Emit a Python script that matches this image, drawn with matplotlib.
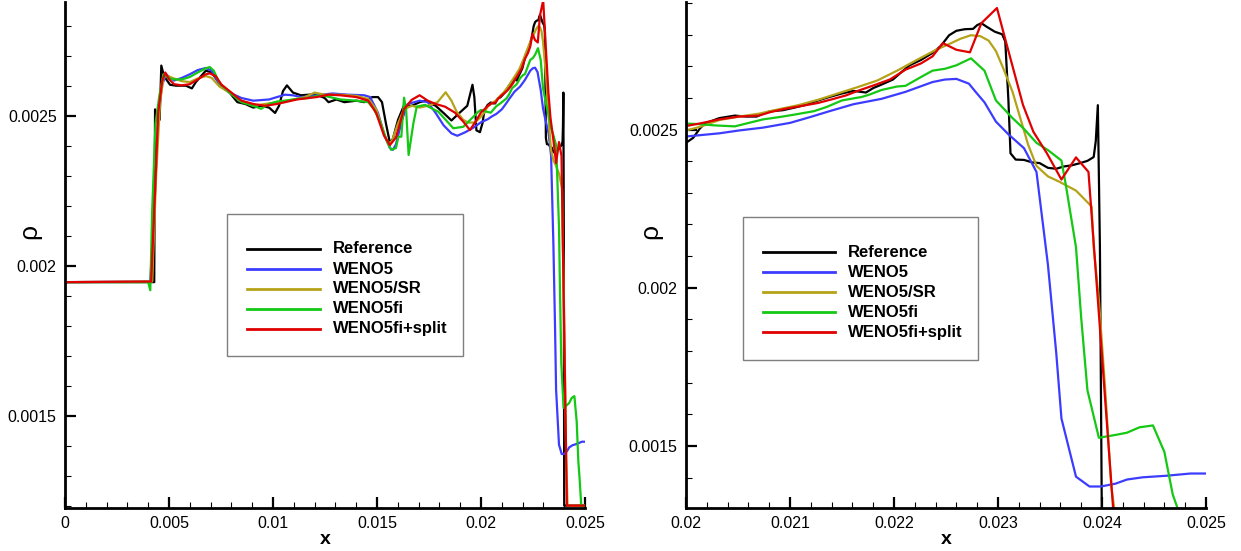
import numpy as np
import matplotlib
matplotlib.use("Agg")
import matplotlib.pyplot as plt
from matplotlib.ticker import MultipleLocator, FuncFormatter
from matplotlib.patches import Rectangle

plt.rcParams['font.family'] = ['Liberation Sans', 'DejaVu Sans']

# density profiles (x, rho)
ref_pts = [(0.0, 0.001945), (0.00429, 0.001945), (0.00433, 0.002521), (0.0044, 0.002486), (0.00455, 0.002486),
           (0.00463, 0.002667), (0.00476, 0.002632), (0.00505, 0.002603), (0.00534, 0.0026), (0.00581, 0.0026),
           (0.0061, 0.002591), (0.00629, 0.002612), (0.00677, 0.00265), (0.00705, 0.002644), (0.00753, 0.002597),
           (0.00791, 0.002577), (0.00829, 0.002545), (0.00867, 0.002539), (0.00905, 0.002527), (0.00943, 0.002533),
           (0.00981, 0.002527), (0.0101, 0.002509), (0.01029, 0.002533), (0.01048, 0.002582), (0.01067, 0.002601),
           (0.01096, 0.002577), (0.01134, 0.002568), (0.01172, 0.00257), (0.0121, 0.00257), (0.01248, 0.002559),
           (0.01267, 0.002545), (0.01305, 0.002554), (0.01343, 0.002545), (0.01401, 0.00255), (0.01439, 0.002545),
           (0.01477, 0.002562), (0.01505, 0.002562), (0.01524, 0.002545), (0.01543, 0.002474), (0.01562, 0.00241),
           (0.01576, 0.002422), (0.01601, 0.002486), (0.01629, 0.002533), (0.01667, 0.002533), (0.01705, 0.002545),
           (0.01734, 0.00255), (0.01763, 0.002539), (0.01782, 0.002533), (0.0182, 0.002509), (0.01858, 0.002484),
           (0.01896, 0.002509), (0.01934, 0.002533), (0.01959, 0.002603), (0.01968, 0.002562), (0.01978, 0.002451),
           (0.01995, 0.002445), (0.02, 0.002458), (0.02007, 0.002474), (0.02013, 0.002502), (0.02018, 0.002519),
           (0.02032, 0.002536), (0.02047, 0.002544), (0.02058, 0.002541), (0.02068, 0.002541), (0.02074, 0.00255),
           (0.02081, 0.002558), (0.02093, 0.002561), (0.02104, 0.002569), (0.02115, 0.002578), (0.02127, 0.002592),
           (0.02138, 0.002603), (0.0215, 0.002614), (0.02161, 0.002622), (0.02173, 0.002617), (0.0218, 0.002631),
           (0.02188, 0.002642), (0.02199, 0.002658), (0.02207, 0.002681), (0.02215, 0.002703), (0.02226, 0.00272),
           (0.02237, 0.002742), (0.02245, 0.002764), (0.02253, 0.002798), (0.0226, 0.002812), (0.02268, 0.002817),
           (0.02276, 0.002818), (0.0228, 0.00283), (0.02284, 0.002836), (0.02289, 0.002825), (0.02297, 0.002809),
           (0.02304, 0.002801), (0.02307, 0.002778), (0.0231, 0.002593), (0.02312, 0.002425), (0.02317, 0.002405),
           (0.02325, 0.002404), (0.02333, 0.002396), (0.0234, 0.002394), (0.02348, 0.002379), (0.02356, 0.002376),
           (0.02363, 0.002383), (0.02371, 0.002387), (0.02378, 0.002393), (0.02386, 0.002401), (0.02392, 0.002413),
           (0.02394, 0.002463), (0.02396, 0.002577), (0.02398, 0.002128), (0.024, 0.0012), (0.025, 0.0012)]

weno5_pts = [(0.0, 0.001945), (0.0041, 0.001947), (0.00429, 0.002181), (0.00448, 0.002498), (0.00467, 0.002603),
             (0.00486, 0.002638), (0.00524, 0.002617), (0.00562, 0.002626), (0.006, 0.002638), (0.00638, 0.002652),
             (0.00677, 0.002659), (0.00705, 0.00265), (0.00743, 0.002603), (0.00791, 0.002577), (0.00848, 0.002559),
             (0.00905, 0.00255), (0.00981, 0.002554), (0.01019, 0.002562), (0.01058, 0.00257), (0.01096, 0.002568),
             (0.01134, 0.002562), (0.0121, 0.002568), (0.01286, 0.002574), (0.01362, 0.00257), (0.01439, 0.002568),
             (0.01467, 0.002562), (0.01505, 0.002509), (0.01534, 0.002439), (0.01562, 0.002392), (0.01576, 0.002386),
             (0.01591, 0.002404), (0.0162, 0.002486), (0.01648, 0.002539), (0.01705, 0.00255), (0.01744, 0.002545),
             (0.01782, 0.002509), (0.0182, 0.002468), (0.01858, 0.002441), (0.01886, 0.002433), (0.01925, 0.002445),
             (0.01963, 0.00246), (0.02, 0.002478), (0.02032, 0.002488), (0.02051, 0.002497), (0.02074, 0.002506),
             (0.021, 0.002521), (0.02119, 0.002539), (0.02138, 0.002558), (0.02161, 0.00258), (0.02188, 0.002597),
             (0.02211, 0.002619), (0.02237, 0.00265), (0.02249, 0.002658), (0.0226, 0.00266), (0.02272, 0.002645),
             (0.02279, 0.002617), (0.02287, 0.002586), (0.02298, 0.002525), (0.0231, 0.002485), (0.02325, 0.002441),
             (0.02337, 0.002366), (0.02348, 0.002073), (0.02356, 0.001794), (0.02361, 0.001587), (0.02375, 0.001403),
             (0.02388, 0.001372), (0.02399, 0.001372), (0.02413, 0.001381), (0.02424, 0.001394), (0.02439, 0.001401),
             (0.02462, 0.001406), (0.02485, 0.001413), (0.025, 0.001413)]

weno5sr_pts = [(0.0, 0.001945), (0.00419, 0.001947), (0.00438, 0.002299), (0.00457, 0.002545), (0.00476, 0.002638),
               (0.00495, 0.002632), (0.00524, 0.002624), (0.00562, 0.002615), (0.006, 0.002612), (0.00638, 0.002624),
               (0.00677, 0.002632), (0.00705, 0.002626), (0.00743, 0.002597), (0.00791, 0.002577), (0.00848, 0.00255),
               (0.00905, 0.002533), (0.00962, 0.002539), (0.01019, 0.002545), (0.01096, 0.002553), (0.01153, 0.002562),
               (0.012, 0.002577), (0.01248, 0.00257), (0.01324, 0.00257), (0.01401, 0.002566), (0.01458, 0.002556),
               (0.01496, 0.002521), (0.01524, 0.002463), (0.01553, 0.002406), (0.01572, 0.002416), (0.01601, 0.002474),
               (0.01629, 0.002521), (0.01667, 0.002533), (0.01705, 0.002527), (0.01744, 0.002533), (0.01791, 0.002545),
               (0.0183, 0.002578), (0.01858, 0.00255), (0.01883, 0.002513), (0.01915, 0.002486), (0.01939, 0.002477),
               (0.01971, 0.002477), (0.02, 0.002497), (0.02013, 0.002508), (0.02032, 0.00253), (0.02051, 0.002541),
               (0.0207, 0.00255), (0.02089, 0.002564), (0.02108, 0.002577), (0.02127, 0.002594), (0.02146, 0.002614),
               (0.02165, 0.002634), (0.02184, 0.002655), (0.02203, 0.002686), (0.02222, 0.00272), (0.02241, 0.002753),
               (0.02253, 0.00277), (0.02264, 0.002787), (0.02274, 0.002798), (0.02283, 0.002795), (0.02291, 0.002781),
               (0.02298, 0.002748), (0.02306, 0.002686), (0.02314, 0.002619), (0.02321, 0.002541), (0.02329, 0.002452),
               (0.02337, 0.002385), (0.02348, 0.002352), (0.02359, 0.002335), (0.02375, 0.002307), (0.0239, 0.002257),
               (0.02392, 0.002128), (0.02397, 0.001961), (0.02403, 0.001682), (0.02409, 0.00137), (0.02416, 0.0012),
               (0.025, 0.0012)]

weno5fi_pts = [(0.0, 0.001945), (0.004, 0.001945), (0.0041, 0.001918), (0.00419, 0.002181), (0.00435, 0.002474),
               (0.00454, 0.002568), (0.00473, 0.002638), (0.00495, 0.002626), (0.00524, 0.002621), (0.00562, 0.002621),
               (0.006, 0.002629), (0.00638, 0.002644), (0.00677, 0.002658), (0.00696, 0.002662), (0.00715, 0.00265),
               (0.00743, 0.002609), (0.00791, 0.002577), (0.00848, 0.002545), (0.00905, 0.002533), (0.00943, 0.002523),
               (0.00981, 0.002539), (0.01019, 0.002547), (0.01058, 0.00255), (0.01115, 0.002556), (0.01172, 0.002559),
               (0.0121, 0.002566), (0.01248, 0.002566), (0.01324, 0.002554), (0.01401, 0.00255), (0.01458, 0.002545),
               (0.01486, 0.002521), (0.01515, 0.00248), (0.01543, 0.002422), (0.01568, 0.002386), (0.01591, 0.002392),
               (0.01603, 0.00243), (0.01617, 0.00243), (0.0163, 0.00256), (0.0164, 0.00252), (0.01652, 0.002369),
               (0.01675, 0.002475), (0.01691, 0.00253), (0.01731, 0.002536), (0.01795, 0.002513), (0.01867, 0.002458),
               (0.01915, 0.002463), (0.01987, 0.002513), (0.02, 0.002519), (0.02013, 0.002517), (0.02028, 0.002513),
               (0.02047, 0.00251), (0.02058, 0.002519), (0.02074, 0.002532), (0.02089, 0.002539), (0.02104, 0.002547),
               (0.02123, 0.002558), (0.02135, 0.002571), (0.0215, 0.002592), (0.02169, 0.002603), (0.02176, 0.00261),
               (0.02188, 0.002625), (0.02203, 0.002636), (0.02211, 0.002638), (0.02226, 0.002666), (0.02237, 0.002686),
               (0.02249, 0.002692), (0.0226, 0.002703), (0.02274, 0.002725), (0.02287, 0.002686), (0.02298, 0.002592),
               (0.02314, 0.002536), (0.02325, 0.002502), (0.02337, 0.002458), (0.02348, 0.002435), (0.02361, 0.002402),
               (0.02365, 0.002329), (0.02375, 0.002128), (0.0238, 0.001905), (0.02386, 0.001676), (0.02397, 0.001526),
               (0.02413, 0.001535), (0.02424, 0.001542), (0.02436, 0.001559), (0.02449, 0.001565), (0.0246, 0.001481),
               (0.02468, 0.001347), (0.02474, 0.001291), (0.02482, 0.0012), (0.025, 0.0012)]

split_pts = [(0.0, 0.001945), (0.00414, 0.001947), (0.00429, 0.002181), (0.00448, 0.002509), (0.00467, 0.002615),
             (0.00482, 0.002644), (0.00501, 0.002621), (0.00524, 0.002605), (0.00562, 0.002601), (0.006, 0.002605),
             (0.00638, 0.002621), (0.00677, 0.002638), (0.00696, 0.002641), (0.00724, 0.002632), (0.00753, 0.002603),
             (0.00791, 0.002582), (0.00848, 0.00255), (0.00905, 0.002539), (0.00962, 0.002533), (0.01019, 0.002539),
             (0.01058, 0.002545), (0.01115, 0.002554), (0.01172, 0.002559), (0.0121, 0.002562), (0.01267, 0.00257),
             (0.01324, 0.002568), (0.01401, 0.002562), (0.01458, 0.00255), (0.01496, 0.002509), (0.01534, 0.002433),
             (0.01562, 0.002402), (0.01591, 0.002427), (0.01629, 0.002521), (0.01667, 0.002553), (0.01705, 0.002568),
             (0.01744, 0.00255), (0.01782, 0.002539), (0.01827, 0.00253), (0.01875, 0.00251), (0.01915, 0.00248),
             (0.01947, 0.002452), (0.01979, 0.002486), (0.02, 0.002511), (0.02013, 0.002519), (0.02032, 0.002532),
             (0.02051, 0.002541), (0.0207, 0.002544), (0.02081, 0.002555), (0.02096, 0.002566), (0.02112, 0.002575),
             (0.02127, 0.002584), (0.02142, 0.002597), (0.02154, 0.002608), (0.02165, 0.002622), (0.0218, 0.002639),
             (0.02196, 0.002658), (0.02211, 0.002689), (0.02226, 0.002709), (0.02237, 0.002731), (0.02247, 0.002773),
             (0.0226, 0.002752), (0.02273, 0.002744), (0.02284, 0.002836), (0.02299, 0.002884), (0.02308, 0.002773),
             (0.02324, 0.002578), (0.02334, 0.002493), (0.02347, 0.002425), (0.02361, 0.002342), (0.02375, 0.002412),
             (0.02387, 0.002366), (0.02413, 0.0012), (0.025, 0.0012)]

labels = ["Reference", "WENO5", "WENO5/SR", "WENO5fi", "WENO5fi+split"]
colors = ["#000000", "#3c3cff", "#b4a318", "#14c814", "#e00000"]
series = [ref_pts, weno5_pts, weno5sr_pts, weno5fi_pts, split_pts]

fig = plt.figure(figsize=(12.41, 5.51), dpi=100)
ax1 = fig.add_axes([65 / 1241, 43.3 / 551, 520 / 1241, 505.7 / 551])
ax2 = fig.add_axes([686 / 1241, 43.3 / 551, 520 / 1241, 505.7 / 551])

fmt = FuncFormatter(lambda v, p: "0" if abs(v) < 1e-12 else "%g" % v)


def style(ax, xlim, ylim, xmaj, xmin):
    ax.set_xlim(*xlim)
    ax.set_ylim(*ylim)
    ax.xaxis.set_major_locator(MultipleLocator(xmaj))
    ax.xaxis.set_minor_locator(MultipleLocator(xmin))
    ax.yaxis.set_major_locator(MultipleLocator(0.0005))
    ax.yaxis.set_minor_locator(MultipleLocator(0.0001))
    ax.xaxis.set_major_formatter(fmt)
    ax.yaxis.set_major_formatter(fmt)
    for s in ["top", "right"]:
        ax.spines[s].set_visible(False)
    for s in ["left", "bottom"]:
        ax.spines[s].set_linewidth(2)
    ax.tick_params(which="major", direction="in", length=8, width=1.6, labelsize=11.5, pad=6)
    ax.tick_params(which="minor", direction="in", length=4, width=0.8)
    ax.set_xlabel("x", fontsize=14, fontweight="bold", va="center")
    ax.xaxis.set_label_coords(0.5, -0.062)
    ax.set_ylabel("ρ", fontsize=19, rotation=90, va="center", ha="center")
    ax.yaxis.set_label_coords(-0.068, 0.547)


def legend_box(ax, x0, x1, y0, y1, lx0, lx1, tx, rows):
    ax.add_patch(Rectangle((x0, y0), x1 - x0, y1 - y0, transform=ax.transAxes,
                           facecolor="white", edgecolor="#7f7f7f", linewidth=1, zorder=5))
    for lab, c, ry in zip(labels, colors, rows):
        ax.plot([lx0, lx1], [ry, ry], color=c, lw=2, transform=ax.transAxes, zorder=6)
        ax.text(tx, ry, lab, transform=ax.transAxes, fontsize=12, fontweight="bold",
                va="center", ha="left", zorder=6)


for ax in [ax1, ax2]:
    for pts, c, lab in zip(series, colors, labels):
        arr = np.array(pts)
        ax.plot(arr[:, 0], arr[:, 1], color=c, lw=1.6, label=lab)

style(ax1, (0, 0.025), (0.001193, 0.002879), 0.005, 0.001)
style(ax2, (0.02, 0.025), (0.001305, 0.002903), 0.001, 0.0002)

legend_box(ax1, 0.3115, 0.765, 0.300, 0.5808, 0.35, 0.4904, 0.5154,
           [0.5122, 0.472, 0.4325, 0.3937, 0.354])
legend_box(ax2, 0.1096, 0.5615, 0.292, 0.574, 0.1473, 0.2858, 0.311,
           [0.5051, 0.4656, 0.426, 0.3865, 0.347])

plt.savefig("out.png", dpi=100)
